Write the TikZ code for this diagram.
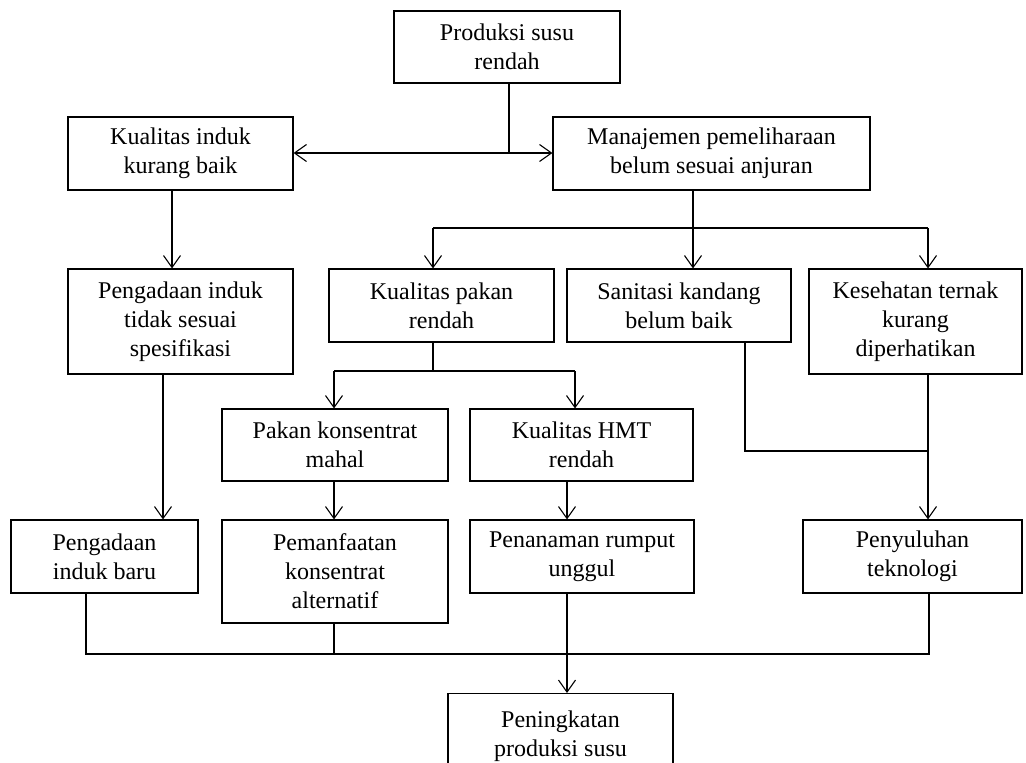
\documentclass[tikz,border=0pt]{standalone}
\usepackage{fontspec}
\setmainfont{Liberation Serif}
\usetikzlibrary{arrows.meta}
\begin{document}
\begin{tikzpicture}[x=1pt,y=-1pt,
  box/.style={draw, line width=1.1pt, rectangle, inner sep=0pt, align=center,
    font=\fontsize{24}{29}\selectfont},
  conn/.style={line width=1.1pt},
  arr/.style={conn, -{Straight Barb[length=12pt,width=17pt]}}]
\useasboundingbox (0,0) rectangle (1026,763);
% boxes
\node[box, minimum width=226pt, minimum height=72pt] (top) at (507,47) {Produksi susu\\rendah};
\node[box, minimum width=225pt, minimum height=73pt] (kib) at (180.5,153.5) {Kualitas induk\\kurang baik};
\node[box, minimum width=317pt, minimum height=73pt] (man) at (711.5,153.5) {Manajemen pemeliharaan\\belum sesuai anjuran};
\node[box, minimum width=225pt, minimum height=105pt] (pit) at (180.5,321.5) {Pengadaan induk\\tidak sesuai\\spesifikasi};
\node[box, minimum width=225pt, minimum height=73pt] (kpr) at (441.5,305.5) {Kualitas pakan\\rendah};
\node[box, minimum width=224pt, minimum height=73pt] (skb) at (679,305.5) {Sanitasi kandang\\belum baik};
\node[box, minimum width=213pt, minimum height=105pt] (ktk) at (915.5,321.5) {Kesehatan ternak\\kurang\\diperhatikan};
\node[box, minimum width=226pt, minimum height=72pt] (pkm) at (335,445) {Pakan konsentrat\\mahal};
\node[box, minimum width=223pt, minimum height=72pt] (hmt) at (581.5,445) {Kualitas HMT\\rendah};
\node[box, minimum width=187pt, minimum height=73pt] (pib) at (104.5,556.5) {Pengadaan\\induk baru};
\node[box, minimum width=226pt, minimum height=103pt] (pka) at (335,571.5) {Pemanfaatan\\konsentrat\\alternatif};
\node[box, minimum width=224pt, minimum height=73pt] (prg) at (582,556.5) {Penanaman rumput\\unggul};
\node[box, minimum width=219pt, minimum height=73pt] (pt) at (912.5,556.5) {Penyuluhan\\teknologi};
\node[box, minimum width=225pt, minimum height=86pt, anchor=north] (pps) at (560.5,693) {Peningkatan\\produksi susu};
% junction coordinates
\coordinate (j1) at (509,153);
\coordinate (x172) at (172,0);
\coordinate (x163) at (163,0);
\coordinate (mL) at (433,228);
\coordinate (mM) at (693,228);
\coordinate (mR) at (928,228);
\coordinate (kL) at (334,371);
\coordinate (kM) at (433,371);
\coordinate (kR) at (575,371);
\coordinate (s1) at (745,451);
\coordinate (s2) at (928,451);
\coordinate (b1) at (86,654);
\coordinate (b2) at (334,654);
\coordinate (b3) at (567,654);
\coordinate (b4) at (929,654);
% connectors
\draw[conn] (top.south -| j1) -- (j1);
\draw[arr] (j1) -- (kib.east |- j1);
\draw[arr] (j1) -- (man.west |- j1);
\draw[arr] (kib.south -| x172) -- (pit.north -| x172);
\draw[conn] (man.south -| mM) -- (mM);
\draw[conn] (mL) -- (mR);
\draw[arr] (mL) -- (kpr.north -| mL);
\draw[arr] (mM) -- (skb.north -| mM);
\draw[arr] (mR) -- (ktk.north -| mR);
\draw[conn] (kpr.south -| kM) -- (kM);
\draw[conn] (kL) -- (kR);
\draw[arr] (kL) -- (pkm.north -| kL);
\draw[arr] (kR) -- (hmt.north -| kR);
\draw[arr] (pit.south -| x163) -- (pib.north -| x163);
\draw[arr] (pkm.south -| kL) -- (pka.north -| kL);
\draw[arr] (hmt.south -| b3) -- (prg.north -| b3);
\draw[conn] (skb.south -| s1) -- (s1) -- (s2);
\draw[arr] (ktk.south -| mR) -- (pt.north -| mR);
\draw[conn] (pib.south -| b1) -- (b1) -- (b4) -- (pt.south -| b4);
\draw[conn] (pka.south -| b2) -- (b2);
\draw[arr] (prg.south -| b3) -- (pps.north -| b3);
\end{tikzpicture}
\end{document}
